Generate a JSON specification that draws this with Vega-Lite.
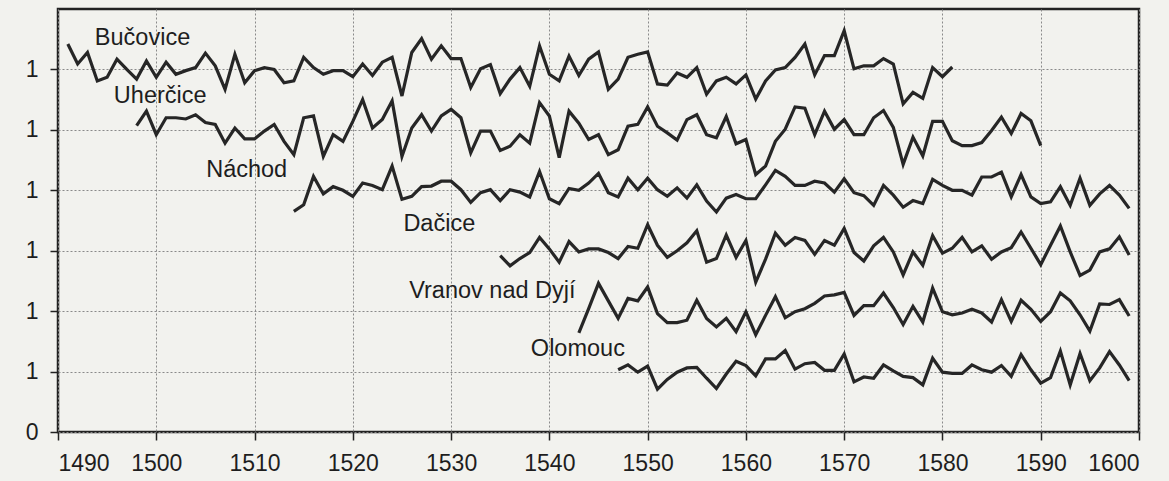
{
  "$schema": "https://vega.github.io/schema/vega-lite/v6.json",
  "width": 1081,
  "height": 423,
  "autosize": "none",
  "padding": {"left": 58, "top": 9, "right": 30, "bottom": 49},
  "background": "#f2f2ee",
  "config": {
    "view": {"stroke": "#222222", "strokeWidth": 2.5},
    "font": "Liberation Sans"
  },
  "datasets": {
    "series": [
      {"s":"B","x":1491,"v":6.42},{"s":"B","x":1492,"v":6.09},{"s":"B","x":1493,"v":6.28},{"s":"B","x":1494,"v":5.81},{"s":"B","x":1495,"v":5.87},{"s":"B","x":1496,"v":6.17},{"s":"B","x":1497,"v":6.0},{"s":"B","x":1498,"v":5.84},{"s":"B","x":1499,"v":6.14},{"s":"B","x":1500,"v":5.87},
      {"s":"B","x":1501,"v":6.12},{"s":"B","x":1502,"v":5.92},{"s":"B","x":1503,"v":5.98},{"s":"B","x":1504,"v":6.03},{"s":"B","x":1505,"v":6.27},{"s":"B","x":1506,"v":6.06},{"s":"B","x":1507,"v":5.67},{"s":"B","x":1508,"v":6.25},{"s":"B","x":1509,"v":5.78},{"s":"B","x":1510,"v":5.98},
      {"s":"B","x":1511,"v":6.03},{"s":"B","x":1512,"v":6.0},{"s":"B","x":1513,"v":5.78},{"s":"B","x":1514,"v":5.81},{"s":"B","x":1515,"v":6.2},{"s":"B","x":1516,"v":6.03},{"s":"B","x":1517,"v":5.92},{"s":"B","x":1518,"v":5.98},{"s":"B","x":1519,"v":5.98},{"s":"B","x":1520,"v":5.88},
      {"s":"B","x":1521,"v":6.09},{"s":"B","x":1522,"v":5.9},{"s":"B","x":1523,"v":6.12},{"s":"B","x":1524,"v":6.2},{"s":"B","x":1525,"v":5.56},{"s":"B","x":1526,"v":6.28},{"s":"B","x":1527,"v":6.51},{"s":"B","x":1528,"v":6.17},{"s":"B","x":1529,"v":6.39},{"s":"B","x":1530,"v":6.18},
      {"s":"B","x":1531,"v":6.18},{"s":"B","x":1532,"v":5.7},{"s":"B","x":1533,"v":6.01},{"s":"B","x":1534,"v":6.08},{"s":"B","x":1535,"v":5.6},{"s":"B","x":1536,"v":5.84},{"s":"B","x":1537,"v":6.03},{"s":"B","x":1538,"v":5.72},{"s":"B","x":1539,"v":6.39},{"s":"B","x":1540,"v":5.92},
      {"s":"B","x":1541,"v":5.81},{"s":"B","x":1542,"v":6.22},{"s":"B","x":1543,"v":5.9},{"s":"B","x":1544,"v":6.17},{"s":"B","x":1545,"v":6.29},{"s":"B","x":1546,"v":5.67},{"s":"B","x":1547,"v":5.84},{"s":"B","x":1548,"v":6.2},{"s":"B","x":1549,"v":6.25},{"s":"B","x":1550,"v":6.29},
      {"s":"B","x":1551,"v":5.76},{"s":"B","x":1552,"v":5.74},{"s":"B","x":1553,"v":5.94},{"s":"B","x":1554,"v":5.87},{"s":"B","x":1555,"v":6.03},{"s":"B","x":1556,"v":5.59},{"s":"B","x":1557,"v":5.81},{"s":"B","x":1558,"v":5.87},{"s":"B","x":1559,"v":5.76},{"s":"B","x":1560,"v":5.91},
      {"s":"B","x":1561,"v":5.51},{"s":"B","x":1562,"v":5.81},{"s":"B","x":1563,"v":5.99},{"s":"B","x":1564,"v":6.03},{"s":"B","x":1565,"v":6.2},{"s":"B","x":1566,"v":6.42},{"s":"B","x":1567,"v":5.91},{"s":"B","x":1568,"v":6.23},{"s":"B","x":1569,"v":6.23},{"s":"B","x":1570,"v":6.64},
      {"s":"B","x":1571,"v":6.01},{"s":"B","x":1572,"v":6.06},{"s":"B","x":1573,"v":6.06},{"s":"B","x":1574,"v":6.18},{"s":"B","x":1575,"v":6.09},{"s":"B","x":1576,"v":5.43},{"s":"B","x":1577,"v":5.62},{"s":"B","x":1578,"v":5.52},{"s":"B","x":1579,"v":6.03},{"s":"B","x":1580,"v":5.88},
      {"s":"B","x":1581,"v":6.04},
      {"s":"U","x":1498,"v":5.07},{"s":"U","x":1499,"v":5.31},{"s":"U","x":1500,"v":4.92},{"s":"U","x":1501,"v":5.2},{"s":"U","x":1502,"v":5.2},{"s":"U","x":1503,"v":5.18},{"s":"U","x":1504,"v":5.25},{"s":"U","x":1505,"v":5.12},{"s":"U","x":1506,"v":5.09},{"s":"U","x":1507,"v":4.78},
      {"s":"U","x":1508,"v":5.03},{"s":"U","x":1509,"v":4.85},{"s":"U","x":1510,"v":4.85},{"s":"U","x":1511,"v":4.98},{"s":"U","x":1512,"v":5.09},{"s":"U","x":1513,"v":4.81},{"s":"U","x":1514,"v":4.59},{"s":"U","x":1515,"v":5.2},{"s":"U","x":1516,"v":5.23},{"s":"U","x":1517,"v":4.56},
      {"s":"U","x":1518,"v":4.92},{"s":"U","x":1519,"v":4.81},{"s":"U","x":1520,"v":5.14},{"s":"U","x":1521,"v":5.5},{"s":"U","x":1522,"v":5.03},{"s":"U","x":1523,"v":5.17},{"s":"U","x":1524,"v":5.48},{"s":"U","x":1525,"v":4.56},{"s":"U","x":1526,"v":5.03},{"s":"U","x":1527,"v":5.25},
      {"s":"U","x":1528,"v":4.98},{"s":"U","x":1529,"v":5.23},{"s":"U","x":1530,"v":5.34},{"s":"U","x":1531,"v":5.2},{"s":"U","x":1532,"v":4.62},{"s":"U","x":1533,"v":4.98},{"s":"U","x":1534,"v":4.98},{"s":"U","x":1535,"v":4.66},{"s":"U","x":1536,"v":4.73},{"s":"U","x":1537,"v":4.92},
      {"s":"U","x":1538,"v":4.78},{"s":"U","x":1539,"v":5.45},{"s":"U","x":1540,"v":5.23},{"s":"U","x":1541,"v":4.54},{"s":"U","x":1542,"v":5.31},{"s":"U","x":1543,"v":5.11},{"s":"U","x":1544,"v":4.84},{"s":"U","x":1545,"v":4.92},{"s":"U","x":1546,"v":4.59},{"s":"U","x":1547,"v":4.67},
      {"s":"U","x":1548,"v":5.06},{"s":"U","x":1549,"v":5.09},{"s":"U","x":1550,"v":5.38},{"s":"U","x":1551,"v":5.06},{"s":"U","x":1552,"v":4.95},{"s":"U","x":1553,"v":4.83},{"s":"U","x":1554,"v":5.17},{"s":"U","x":1555,"v":5.25},{"s":"U","x":1556,"v":4.92},{"s":"U","x":1557,"v":4.87},
      {"s":"U","x":1558,"v":5.22},{"s":"U","x":1559,"v":4.77},{"s":"U","x":1560,"v":4.84},{"s":"U","x":1561,"v":4.26},{"s":"U","x":1562,"v":4.4},{"s":"U","x":1563,"v":4.81},{"s":"U","x":1564,"v":5.01},{"s":"U","x":1565,"v":5.38},{"s":"U","x":1566,"v":5.36},{"s":"U","x":1567,"v":4.92},
      {"s":"U","x":1568,"v":5.31},{"s":"U","x":1569,"v":5.01},{"s":"U","x":1570,"v":5.17},{"s":"U","x":1571,"v":4.92},{"s":"U","x":1572,"v":4.92},{"s":"U","x":1573,"v":5.2},{"s":"U","x":1574,"v":5.32},{"s":"U","x":1575,"v":5.04},{"s":"U","x":1576,"v":4.43},{"s":"U","x":1577,"v":4.88},
      {"s":"U","x":1578,"v":4.57},{"s":"U","x":1579,"v":5.14},{"s":"U","x":1580,"v":5.14},{"s":"U","x":1581,"v":4.82},{"s":"U","x":1582,"v":4.74},{"s":"U","x":1583,"v":4.74},{"s":"U","x":1584,"v":4.79},{"s":"U","x":1585,"v":4.99},{"s":"U","x":1586,"v":5.21},{"s":"U","x":1587,"v":4.94},
      {"s":"U","x":1588,"v":5.27},{"s":"U","x":1589,"v":5.15},{"s":"U","x":1590,"v":4.74},
      {"s":"N","x":1514,"v":3.65},{"s":"N","x":1515,"v":3.76},{"s":"N","x":1516,"v":4.23},{"s":"N","x":1517,"v":3.94},{"s":"N","x":1518,"v":4.06},{"s":"N","x":1519,"v":4.0},{"s":"N","x":1520,"v":3.9},{"s":"N","x":1521,"v":4.12},{"s":"N","x":1522,"v":4.08},{"s":"N","x":1523,"v":4.01},
      {"s":"N","x":1524,"v":4.4},{"s":"N","x":1525,"v":3.85},{"s":"N","x":1526,"v":3.9},{"s":"N","x":1527,"v":4.06},{"s":"N","x":1528,"v":4.07},{"s":"N","x":1529,"v":4.15},{"s":"N","x":1530,"v":4.15},{"s":"N","x":1531,"v":4.01},{"s":"N","x":1532,"v":3.8},{"s":"N","x":1533,"v":3.96},
      {"s":"N","x":1534,"v":4.01},{"s":"N","x":1535,"v":3.83},{"s":"N","x":1536,"v":4.01},{"s":"N","x":1537,"v":3.97},{"s":"N","x":1538,"v":3.89},{"s":"N","x":1539,"v":4.31},{"s":"N","x":1540,"v":3.86},{"s":"N","x":1541,"v":3.78},{"s":"N","x":1542,"v":4.03},{"s":"N","x":1543,"v":4.0},
      {"s":"N","x":1544,"v":4.12},{"s":"N","x":1545,"v":4.28},{"s":"N","x":1546,"v":3.96},{"s":"N","x":1547,"v":3.89},{"s":"N","x":1548,"v":4.2},{"s":"N","x":1549,"v":4.01},{"s":"N","x":1550,"v":4.2},{"s":"N","x":1551,"v":4.01},{"s":"N","x":1552,"v":3.9},{"s":"N","x":1553,"v":4.04},
      {"s":"N","x":1554,"v":3.87},{"s":"N","x":1555,"v":4.09},{"s":"N","x":1556,"v":3.82},{"s":"N","x":1557,"v":3.64},{"s":"N","x":1558,"v":3.87},{"s":"N","x":1559,"v":3.93},{"s":"N","x":1560,"v":3.86},{"s":"N","x":1561,"v":3.86},{"s":"N","x":1562,"v":4.09},{"s":"N","x":1563,"v":4.33},
      {"s":"N","x":1564,"v":4.23},{"s":"N","x":1565,"v":4.08},{"s":"N","x":1566,"v":4.08},{"s":"N","x":1567,"v":4.15},{"s":"N","x":1568,"v":4.12},{"s":"N","x":1569,"v":3.97},{"s":"N","x":1570,"v":4.19},{"s":"N","x":1571,"v":3.96},{"s":"N","x":1572,"v":3.91},{"s":"N","x":1573,"v":3.75},
      {"s":"N","x":1574,"v":4.08},{"s":"N","x":1575,"v":3.92},{"s":"N","x":1576,"v":3.72},{"s":"N","x":1577,"v":3.83},{"s":"N","x":1578,"v":3.78},{"s":"N","x":1579,"v":4.18},{"s":"N","x":1580,"v":4.08},{"s":"N","x":1581,"v":4.0},{"s":"N","x":1582,"v":4.0},{"s":"N","x":1583,"v":3.92},
      {"s":"N","x":1584,"v":4.22},{"s":"N","x":1585,"v":4.22},{"s":"N","x":1586,"v":4.3},{"s":"N","x":1587,"v":3.89},{"s":"N","x":1588,"v":4.26},{"s":"N","x":1589,"v":3.89},{"s":"N","x":1590,"v":3.78},{"s":"N","x":1591,"v":3.81},{"s":"N","x":1592,"v":4.06},{"s":"N","x":1593,"v":3.75},
      {"s":"N","x":1594,"v":4.2},{"s":"N","x":1595,"v":3.75},{"s":"N","x":1596,"v":3.94},{"s":"N","x":1597,"v":4.08},{"s":"N","x":1598,"v":3.92},{"s":"N","x":1599,"v":3.7},
      {"s":"D","x":1535,"v":2.92},{"s":"D","x":1536,"v":2.75},{"s":"D","x":1537,"v":2.87},{"s":"D","x":1538,"v":2.97},{"s":"D","x":1539,"v":3.22},{"s":"D","x":1540,"v":3.03},{"s":"D","x":1541,"v":2.81},{"s":"D","x":1542,"v":3.15},{"s":"D","x":1543,"v":2.98},{"s":"D","x":1544,"v":3.03},
      {"s":"D","x":1545,"v":3.03},{"s":"D","x":1546,"v":2.97},{"s":"D","x":1547,"v":2.87},{"s":"D","x":1548,"v":3.07},{"s":"D","x":1549,"v":3.04},{"s":"D","x":1550,"v":3.43},{"s":"D","x":1551,"v":3.09},{"s":"D","x":1552,"v":2.89},{"s":"D","x":1553,"v":3.0},{"s":"D","x":1554,"v":3.13},
      {"s":"D","x":1555,"v":3.33},{"s":"D","x":1556,"v":2.81},{"s":"D","x":1557,"v":2.87},{"s":"D","x":1558,"v":3.26},{"s":"D","x":1559,"v":2.89},{"s":"D","x":1560,"v":3.17},{"s":"D","x":1561,"v":2.48},{"s":"D","x":1562,"v":2.86},{"s":"D","x":1563,"v":3.29},{"s":"D","x":1564,"v":3.09},
      {"s":"D","x":1565,"v":3.22},{"s":"D","x":1566,"v":3.17},{"s":"D","x":1567,"v":2.94},{"s":"D","x":1568,"v":3.17},{"s":"D","x":1569,"v":3.09},{"s":"D","x":1570,"v":3.37},{"s":"D","x":1571,"v":2.97},{"s":"D","x":1572,"v":2.83},{"s":"D","x":1573,"v":3.08},{"s":"D","x":1574,"v":3.22},
      {"s":"D","x":1575,"v":2.98},{"s":"D","x":1576,"v":2.6},{"s":"D","x":1577,"v":2.98},{"s":"D","x":1578,"v":2.76},{"s":"D","x":1579,"v":3.25},{"s":"D","x":1580,"v":2.96},{"s":"D","x":1581,"v":3.04},{"s":"D","x":1582,"v":3.22},{"s":"D","x":1583,"v":2.98},{"s":"D","x":1584,"v":3.08},
      {"s":"D","x":1585,"v":2.86},{"s":"D","x":1586,"v":2.98},{"s":"D","x":1587,"v":3.05},{"s":"D","x":1588,"v":3.31},{"s":"D","x":1589,"v":3.04},{"s":"D","x":1590,"v":2.77},{"s":"D","x":1591,"v":3.09},{"s":"D","x":1592,"v":3.41},{"s":"D","x":1593,"v":2.98},{"s":"D","x":1594,"v":2.59},
      {"s":"D","x":1595,"v":2.68},{"s":"D","x":1596,"v":2.98},{"s":"D","x":1597,"v":3.03},{"s":"D","x":1598,"v":3.23},{"s":"D","x":1599,"v":2.93},
      {"s":"V","x":1543,"v":1.64},{"s":"V","x":1544,"v":2.04},{"s":"V","x":1545,"v":2.46},{"s":"V","x":1546,"v":2.17},{"s":"V","x":1547,"v":1.88},{"s":"V","x":1548,"v":2.21},{"s":"V","x":1549,"v":2.17},{"s":"V","x":1550,"v":2.4},{"s":"V","x":1551,"v":1.96},{"s":"V","x":1552,"v":1.81},
      {"s":"V","x":1553,"v":1.81},{"s":"V","x":1554,"v":1.85},{"s":"V","x":1555,"v":2.18},{"s":"V","x":1556,"v":1.88},{"s":"V","x":1557,"v":1.74},{"s":"V","x":1558,"v":1.88},{"s":"V","x":1559,"v":1.66},{"s":"V","x":1560,"v":1.99},{"s":"V","x":1561,"v":1.61},{"s":"V","x":1562,"v":1.93},
      {"s":"V","x":1563,"v":2.24},{"s":"V","x":1564,"v":1.89},{"s":"V","x":1565,"v":1.99},{"s":"V","x":1566,"v":2.04},{"s":"V","x":1567,"v":2.13},{"s":"V","x":1568,"v":2.25},{"s":"V","x":1569,"v":2.27},{"s":"V","x":1570,"v":2.31},{"s":"V","x":1571,"v":1.93},{"s":"V","x":1572,"v":2.09},
      {"s":"V","x":1573,"v":2.09},{"s":"V","x":1574,"v":2.3},{"s":"V","x":1575,"v":2.06},{"s":"V","x":1576,"v":1.78},{"s":"V","x":1577,"v":2.08},{"s":"V","x":1578,"v":1.82},{"s":"V","x":1579,"v":2.38},{"s":"V","x":1580,"v":1.99},{"s":"V","x":1581,"v":1.94},{"s":"V","x":1582,"v":1.97},
      {"s":"V","x":1583,"v":2.03},{"s":"V","x":1584,"v":1.97},{"s":"V","x":1585,"v":1.82},{"s":"V","x":1586,"v":2.19},{"s":"V","x":1587,"v":1.83},{"s":"V","x":1588,"v":2.18},{"s":"V","x":1589,"v":2.03},{"s":"V","x":1590,"v":1.83},{"s":"V","x":1591,"v":1.99},{"s":"V","x":1592,"v":2.3},
      {"s":"V","x":1593,"v":2.17},{"s":"V","x":1594,"v":1.94},{"s":"V","x":1595,"v":1.67},{"s":"V","x":1596,"v":2.12},{"s":"V","x":1597,"v":2.11},{"s":"V","x":1598,"v":2.19},{"s":"V","x":1599,"v":1.92},
      {"s":"O","x":1547,"v":1.03},{"s":"O","x":1548,"v":1.11},{"s":"O","x":1549,"v":0.99},{"s":"O","x":1550,"v":1.09},{"s":"O","x":1551,"v":0.71},{"s":"O","x":1552,"v":0.87},{"s":"O","x":1553,"v":0.99},{"s":"O","x":1554,"v":1.06},{"s":"O","x":1555,"v":1.07},{"s":"O","x":1556,"v":0.89},
      {"s":"O","x":1557,"v":0.72},{"s":"O","x":1558,"v":0.96},{"s":"O","x":1559,"v":1.17},{"s":"O","x":1560,"v":1.1},{"s":"O","x":1561,"v":0.93},{"s":"O","x":1562,"v":1.21},{"s":"O","x":1563,"v":1.21},{"s":"O","x":1564,"v":1.35},{"s":"O","x":1565,"v":1.04},{"s":"O","x":1566,"v":1.13},
      {"s":"O","x":1567,"v":1.15},{"s":"O","x":1568,"v":1.02},{"s":"O","x":1569,"v":1.02},{"s":"O","x":1570,"v":1.29},{"s":"O","x":1571,"v":0.83},{"s":"O","x":1572,"v":0.91},{"s":"O","x":1573,"v":0.89},{"s":"O","x":1574,"v":1.11},{"s":"O","x":1575,"v":1.01},{"s":"O","x":1576,"v":0.92},
      {"s":"O","x":1577,"v":0.9},{"s":"O","x":1578,"v":0.78},{"s":"O","x":1579,"v":1.22},{"s":"O","x":1580,"v":0.99},{"s":"O","x":1581,"v":0.97},{"s":"O","x":1582,"v":0.97},{"s":"O","x":1583,"v":1.11},{"s":"O","x":1584,"v":1.03},{"s":"O","x":1585,"v":0.99},{"s":"O","x":1586,"v":1.1},
      {"s":"O","x":1587,"v":0.92},{"s":"O","x":1588,"v":1.28},{"s":"O","x":1589,"v":1.03},{"s":"O","x":1590,"v":0.81},{"s":"O","x":1591,"v":0.9},{"s":"O","x":1592,"v":1.34},{"s":"O","x":1593,"v":0.78},{"s":"O","x":1594,"v":1.3},{"s":"O","x":1595,"v":0.85},{"s":"O","x":1596,"v":1.06},
      {"s":"O","x":1597,"v":1.33},{"s":"O","x":1598,"v":1.11},{"s":"O","x":1599,"v":0.85}
    ],
    "labels": [
      {"name":"Bučovice","x":1498.6,"v":6.52},
      {"name":"Uherčice","x":1500.4,"v":5.56},
      {"name":"Náchod","x":1509.2,"v":4.33},
      {"name":"Dačice","x":1528.8,"v":3.44},
      {"name":"Vranov nad Dyjí","x":1534.2,"v":2.34},
      {"name":"Olomouc","x":1542.9,"v":1.38}
    ]
  },
  "layer": [
    {
      "data": {"name": "series"},
      "mark": {"type": "line", "color": "#262626", "strokeWidth": 3.2, "strokeJoin": "miter"},
      "encoding": {
        "x": {
          "field": "x", "type": "quantitative",
          "scale": {"domain": [1490, 1600], "nice": false, "zero": false},
          "axis": {
            "title": null, "values": [1490,1500,1510,1520,1530,1540,1550,1560,1570,1580,1590,1600],
            "format": "d", "grid": true, "gridDash": [2, 2], "gridColor": "#8a8a8a", "gridWidth": 1,
            "domain": false, "tickSize": 8, "tickColor": "#222222", "tickWidth": 1.5,
            "labelFontSize": 23, "labelColor": "#1e1e1e", "labelPadding": 12, "labelFont": "Liberation Sans"
          }
        },
        "y": {
          "field": "v", "type": "quantitative",
          "scale": {"domain": [0, 7], "nice": false, "zero": true},
          "axis": {
            "title": null, "values": [0,1,2,3,4,5,6],
            "labelExpr": "datum.value == 0 ? '0' : '1'",
            "grid": true, "gridDash": [2, 2], "gridColor": "#8a8a8a", "gridWidth": 1,
            "domain": false, "tickSize": 8, "tickColor": "#222222", "tickWidth": 1.5,
            "labelFontSize": 23, "labelColor": "#1e1e1e", "labelPadding": 12, "labelFont": "Liberation Sans"
          }
        },
        "detail": {"field": "s", "type": "nominal"}
      }
    },
    {
      "data": {"name": "labels"},
      "mark": {"type": "text", "font": "Liberation Sans", "fontSize": 23.5, "color": "#1e1e1e", "align": "center", "baseline": "middle"},
      "encoding": {
        "x": {"field": "x", "type": "quantitative"},
        "y": {"field": "v", "type": "quantitative"},
        "text": {"field": "name", "type": "nominal"}
      }
    }
  ]
}
